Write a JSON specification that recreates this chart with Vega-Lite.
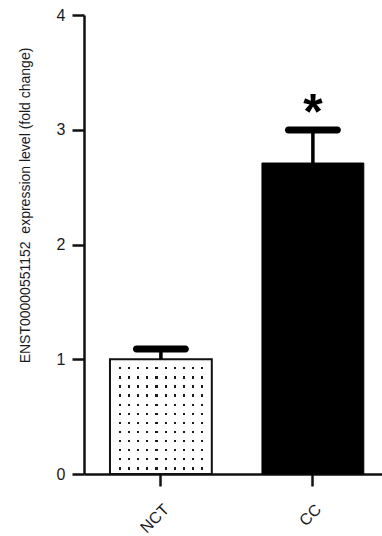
{
  "$schema": "https://vega.github.io/schema/vega-lite/v6.json",
  "width": 298,
  "height": 459,
  "autosize": "none",
  "padding": {"left": 84, "top": 15, "right": 0, "bottom": 62},
  "background": "white",
  "config": {
    "view": {"stroke": null},
    "font": "Liberation Sans",
    "axis": {"grid": false, "domainColor": "#111", "tickColor": "#111", "domainWidth": 2.5, "tickWidth": 2.5, "labelColor": "#1a1a1a", "titleColor": "#1a1a1a", "labelFont": "Liberation Sans", "titleFont": "Liberation Sans"}
  },
  "data": {"values": [
    {"group": "NCT", "mean": 1.0, "upper": 1.089},
    {"group": "CC", "mean": 2.71, "upper": 2.998, "sig": "*"}
  ]},
  "encoding": {
    "x": {"field": "group", "type": "nominal", "sort": ["NCT", "CC"],
      "scale": {"paddingInner": 0.33, "paddingOuter": 0.1453, "align": 0.588},
      "axis": {"title": null, "labelAngle": -45, "labelFontSize": 16, "tickSize": 12, "labelPadding": 15, "domainWidth": 2.5}}
  },
  "layer": [
    {
      "transform": [{"filter": "datum.group === 'CC'"}],
      "mark": {"type": "bar", "fill": "#000000", "stroke": "#000000", "strokeWidth": 1},
      "encoding": {
        "y": {"field": "mean", "type": "quantitative", "scale": {"domain": [0, 4], "nice": false},
          "title": "ENST00000551152\u00a0 expression level (fold change)",
          "axis": {"values": [0, 1, 2, 3, 4], "format": "d",
            "tickSize": 12, "labelFontSize": 16, "labelPadding": 7, "titleFontSize": 14, "titleFontWeight": "normal",
            "titleX": -59, "titleY": 190, "titleAngle": -90, "titleAlign": "center", "titleBaseline": "middle"}}
      }
    },
    {
      "transform": [{"filter": "datum.group === 'NCT'"}],
      "mark": {"type": "bar", "fill": {"gradient": "linear", "x1": 0, "y1": 0, "x2": 1, "y2": 0, "stops": [
        {"offset": 0, "color": "#ffffff"},
        {"offset": 0.087, "color": "#ffffff"}, {"offset": 0.087, "color": "#1a1a1a"}, {"offset": 0.109, "color": "#1a1a1a"}, {"offset": 0.109, "color": "#ffffff"},
        {"offset": 0.177, "color": "#ffffff"}, {"offset": 0.177, "color": "#1a1a1a"}, {"offset": 0.199, "color": "#1a1a1a"}, {"offset": 0.199, "color": "#ffffff"},
        {"offset": 0.267, "color": "#ffffff"}, {"offset": 0.267, "color": "#1a1a1a"}, {"offset": 0.289, "color": "#1a1a1a"}, {"offset": 0.289, "color": "#ffffff"},
        {"offset": 0.356, "color": "#ffffff"}, {"offset": 0.356, "color": "#1a1a1a"}, {"offset": 0.378, "color": "#1a1a1a"}, {"offset": 0.378, "color": "#ffffff"},
        {"offset": 0.447, "color": "#ffffff"}, {"offset": 0.447, "color": "#1a1a1a"}, {"offset": 0.469, "color": "#1a1a1a"}, {"offset": 0.469, "color": "#ffffff"},
        {"offset": 0.536, "color": "#ffffff"}, {"offset": 0.536, "color": "#1a1a1a"}, {"offset": 0.558, "color": "#1a1a1a"}, {"offset": 0.558, "color": "#ffffff"},
        {"offset": 0.626, "color": "#ffffff"}, {"offset": 0.626, "color": "#1a1a1a"}, {"offset": 0.648, "color": "#1a1a1a"}, {"offset": 0.648, "color": "#ffffff"},
        {"offset": 0.716, "color": "#ffffff"}, {"offset": 0.716, "color": "#1a1a1a"}, {"offset": 0.738, "color": "#1a1a1a"}, {"offset": 0.738, "color": "#ffffff"},
        {"offset": 0.805, "color": "#ffffff"}, {"offset": 0.805, "color": "#1a1a1a"}, {"offset": 0.827, "color": "#1a1a1a"}, {"offset": 0.827, "color": "#ffffff"},
        {"offset": 0.896, "color": "#ffffff"}, {"offset": 0.896, "color": "#1a1a1a"}, {"offset": 0.918, "color": "#1a1a1a"}, {"offset": 0.918, "color": "#ffffff"},
        {"offset": 1, "color": "#ffffff"}
      ]}},
      "encoding": {"y": {"field": "mean", "type": "quantitative"}}
    },
    {
      "transform": [{"filter": "datum.group === 'NCT'"}],
      "mark": {"type": "bar", "stroke": "#111111", "strokeWidth": 2, "fill": {"gradient": "linear", "x1": 0, "y1": 0, "x2": 0, "y2": 1, "stops": [
        {"offset": 0, "color": "#ffffff"},
        {"offset": 0.069, "color": "#ffffff"}, {"offset": 0.069, "color": "rgba(255,255,255,0)"}, {"offset": 0.089, "color": "rgba(255,255,255,0)"}, {"offset": 0.089, "color": "#ffffff"},
        {"offset": 0.148, "color": "#ffffff"}, {"offset": 0.148, "color": "rgba(255,255,255,0)"}, {"offset": 0.168, "color": "rgba(255,255,255,0)"}, {"offset": 0.168, "color": "#ffffff"},
        {"offset": 0.228, "color": "#ffffff"}, {"offset": 0.228, "color": "rgba(255,255,255,0)"}, {"offset": 0.248, "color": "rgba(255,255,255,0)"}, {"offset": 0.248, "color": "#ffffff"},
        {"offset": 0.307, "color": "#ffffff"}, {"offset": 0.307, "color": "rgba(255,255,255,0)"}, {"offset": 0.327, "color": "rgba(255,255,255,0)"}, {"offset": 0.327, "color": "#ffffff"},
        {"offset": 0.386, "color": "#ffffff"}, {"offset": 0.386, "color": "rgba(255,255,255,0)"}, {"offset": 0.406, "color": "rgba(255,255,255,0)"}, {"offset": 0.406, "color": "#ffffff"},
        {"offset": 0.466, "color": "#ffffff"}, {"offset": 0.466, "color": "rgba(255,255,255,0)"}, {"offset": 0.486, "color": "rgba(255,255,255,0)"}, {"offset": 0.486, "color": "#ffffff"},
        {"offset": 0.545, "color": "#ffffff"}, {"offset": 0.545, "color": "rgba(255,255,255,0)"}, {"offset": 0.565, "color": "rgba(255,255,255,0)"}, {"offset": 0.565, "color": "#ffffff"},
        {"offset": 0.624, "color": "#ffffff"}, {"offset": 0.624, "color": "rgba(255,255,255,0)"}, {"offset": 0.644, "color": "rgba(255,255,255,0)"}, {"offset": 0.644, "color": "#ffffff"},
        {"offset": 0.704, "color": "#ffffff"}, {"offset": 0.704, "color": "rgba(255,255,255,0)"}, {"offset": 0.724, "color": "rgba(255,255,255,0)"}, {"offset": 0.724, "color": "#ffffff"},
        {"offset": 0.783, "color": "#ffffff"}, {"offset": 0.783, "color": "rgba(255,255,255,0)"}, {"offset": 0.803, "color": "rgba(255,255,255,0)"}, {"offset": 0.803, "color": "#ffffff"},
        {"offset": 0.862, "color": "#ffffff"}, {"offset": 0.862, "color": "rgba(255,255,255,0)"}, {"offset": 0.882, "color": "rgba(255,255,255,0)"}, {"offset": 0.882, "color": "#ffffff"},
        {"offset": 0.942, "color": "#ffffff"}, {"offset": 0.942, "color": "rgba(255,255,255,0)"}, {"offset": 0.962, "color": "rgba(255,255,255,0)"}, {"offset": 0.962, "color": "#ffffff"},
        {"offset": 1, "color": "#ffffff"}
      ]}},
      "encoding": {"y": {"field": "mean", "type": "quantitative"}}
    },
    {
      "mark": {"type": "rule", "color": "#000000", "strokeWidth": 3.5},
      "encoding": {
        "y": {"field": "mean", "type": "quantitative"},
        "y2": {"field": "upper"}
      }
    },
    {
      "mark": {"type": "tick", "orient": "horizontal", "color": "#000000", "thickness": 7, "size": 56, "cornerRadius": 3.5, "opacity": 1},
      "encoding": {"y": {"field": "upper", "type": "quantitative"}}
    },
    {
      "transform": [{"filter": "datum.sig != null"}],
      "mark": {"type": "text", "fontSize": 50, "fontWeight": "bold", "baseline": "alphabetic", "align": "center", "dy": -1, "color": "#000000", "font": "Liberation Sans"},
      "encoding": {
        "y": {"field": "upper", "type": "quantitative"},
        "text": {"field": "sig"}
      }
    }
  ]
}
